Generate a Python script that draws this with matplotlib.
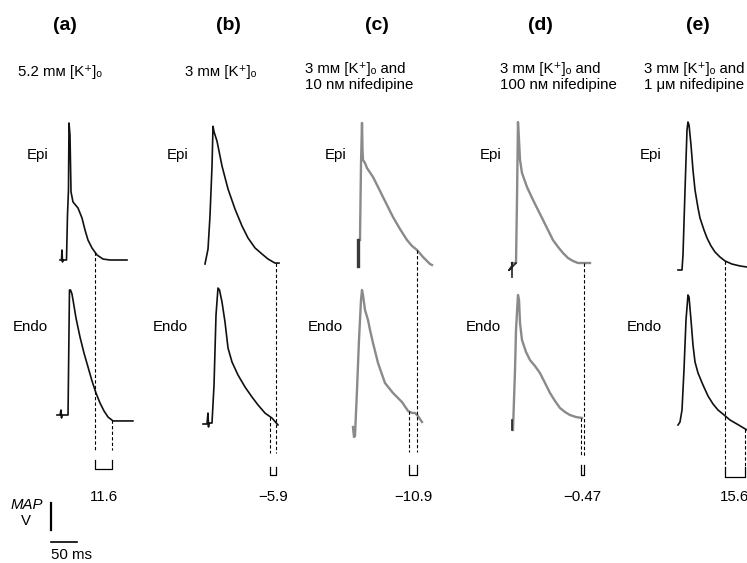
import numpy as np
import matplotlib
matplotlib.use('Agg')
import matplotlib.pyplot as plt

plt.rcParams['font.family'] = ['Liberation Sans', 'DejaVu Sans']

# panel titles and conditions
panel_titles = ['(a)', '(b)', '(c)', '(d)', '(e)']
conditions = ['5.2 mᴍ [K⁺]ₒ',
              '3 mᴍ [K⁺]ₒ',
              '3 mᴍ [K⁺]ₒ and\n10 nᴍ nifedipine',
              '3 mᴍ [K⁺]ₒ and\n100 nᴍ nifedipine',
              '3 mᴍ [K⁺]ₒ and\n1 μᴍ nifedipine']
dispersion = ['11.6', '\u22125.9', '\u221210.9', '\u22120.47', '15.6']

# MAP traces: time (ms) and amplitude (% of MAP)
a_epi_t = [0, 2.9, 3.8, 4.8, 5.8, 12.5, 14.4, 16.3, 17.3, 19.2, 21.2, 25, 34.6, 42.3, 48.1, 53.8, 61.5, 71.2, 82.7, 96.2, 128.8]
a_epi_v = [0, 0, 7.4, -1.5, 0, 0, 33.3, 51.9, 101.5, 92.6, 50.4, 43, 38.5, 31.1, 22.2, 14.8, 8.9, 3.7, 0.7, 0, 0]
a_endo_t = [0, 5.8, 7.7, 8.7, 9.6, 21.2, 24, 26, 28.8, 30.8, 36.5, 44.2, 51.9, 59.6, 67.3, 75, 82.7, 90.4, 98.1, 107.7, 146]
a_endo_v = [0, 0, 3.7, -2.2, 0, 0, 92.6, 92.6, 89.6, 85.2, 71.9, 57.8, 45.9, 35.6, 25.2, 16.3, 8.9, 3, -1.5, -4.4, -4.4]

b_epi_t = [0, 5.8, 9.6, 13.5, 15.4, 17.3, 23.1, 32.7, 44.2, 57.7, 71.2, 82.7, 96.2, 109.6, 121.2, 134.6, 142.3]
b_epi_v = [0, 11.1, 35.6, 72.6, 102, 98, 91, 72.6, 55.6, 40.7, 28.1, 19.3, 11.9, 7.4, 3.7, 0.7, 0.7]
b_endo_t = [0, 7.7, 9.6, 10.6, 11.5, 17.3, 21.2, 25, 28.8, 31.7, 36.5, 42.3, 48.1, 55.8, 67.3, 80.8, 94.2, 105.8, 119.2, 132.7, 144.2]
b_endo_v = [0, 0, 8.1, -2.2, 0.7, 0.7, 28.9, 80.7, 100.7, 99.3, 90.4, 75.6, 56.3, 45.9, 36.3, 27.4, 20, 14.1, 8.1, 4.4, -0.7]

c_epi_t = [3.8, 5.8, 7.7, 8.7, 9.6, 13.5, 17.3, 28.8, 38.5, 48.1, 57.7, 67.3, 80.8, 94.2, 103.8, 113.5, 125, 138.5, 142.3]
c_epi_v = [16.3, 73.3, 103, 83, 75.6, 73.3, 69.6, 63, 55.6, 48.1, 40.7, 33.3, 24.4, 16.3, 11.9, 8.9, 3.7, -1.5, -2.2]
c_endo_t = [0, 1.9, 3.8, 7.7, 11.5, 15.4, 17.3, 19.2, 23.1, 28.8, 32.7, 38.5, 48.1, 61.5, 76.9, 94.2, 105.8, 113.5, 119.2, 125, 132.7]
c_endo_v = [0, -7.4, -6.7, 27.4, 64.4, 94.1, 101.5, 97.8, 86.7, 79.3, 71.9, 62.2, 47.4, 32.6, 25.2, 18.5, 11.9, 10.4, 10.4, 8.1, 3.7]

d_epi_t = [0, 7.7, 9.6, 11.5, 13.5, 15.4, 19.2, 28.8, 40.4, 50, 59.6, 69.2, 78.8, 88.5, 98.1, 107.7, 117.3, 126.9, 150]
d_epi_v = [0, 0, 46.7, 104.4, 91.1, 76.3, 66.7, 56.3, 46.7, 39.3, 31.9, 24.4, 17, 11.9, 7.4, 3.7, 1.5, 0, 0]
d_endo_t = [1.9, 5.8, 7.7, 11.5, 13.5, 15.4, 19.2, 26.9, 34.6, 44.2, 53.8, 63.5, 73.1, 82.7, 92.3, 101.9, 111.5, 123.1, 134.6]
d_endo_v = [-3.7, 40.7, 70.4, 96.3, 92.6, 75.6, 63, 54.1, 48.1, 43.7, 38.5, 31.1, 23.7, 17.8, 12.6, 9.6, 7.4, 5.9, 5.2]

e_epi_t = [0, 7.7, 9.6, 13.5, 17.3, 19.2, 21.2, 25, 28.8, 32.7, 38.5, 42.3, 50, 55.8, 63.5, 71.2, 80.8, 90.4, 103.8, 119.2, 132.7]
e_epi_v = [0, 0, 11.1, 59.3, 103.7, 109.6, 107.4, 92.6, 74.1, 59.3, 45.9, 38.5, 29.6, 23.7, 17.8, 13.3, 9.6, 6.7, 4.4, 3, 2.2]
e_endo_t = [0, 3.8, 7.7, 11.5, 15.4, 19.2, 21.2, 25, 28.8, 32.7, 38.5, 48.1, 57.7, 67.3, 76.9, 86.5, 100, 113.5, 132.7]
e_endo_v = [0, 2.2, 11.1, 40.7, 77.8, 96.3, 94.8, 77.8, 59.3, 46.7, 38.5, 29.6, 21.5, 15.6, 11.1, 8.1, 3.7, 0.7, -3.7]

# stimulus artefacts
c_epi_art_t, c_epi_art_v = [0, 0], [-3, 16.3]
d_epi_art_t, d_epi_art_v = [0, 0, 0, -6, 7.7], [-10.4, 0, -2, -5.5, 0]
d_endo_art_t, d_endo_art_v = [0, 0], [-3.7, 3.7]

# repolarisation times (ms after trace start)
epi_repol_ms = [67.3, 135.6, 113.5, 138.5, 90.4]
endo_repol_ms = [105.8, 128.8, 107.7, 132.7, 128.8]

epi_traces = [(a_epi_t, a_epi_v), (b_epi_t, b_epi_v), (c_epi_t, c_epi_v), (d_epi_t, d_epi_v), (e_epi_t, e_epi_v)]
endo_traces = [(a_endo_t, a_endo_v), (b_endo_t, b_endo_v), (c_endo_t, c_endo_v), (d_endo_t, d_endo_v), (e_endo_t, e_endo_v)]

scale_ms = 50
scale_v = 20

# layout (figure pixels)
PX_MS = 26 / 50
PX_V = 1.35
FS = 10.8
title_x = [65, 228, 377, 540, 698]
cond_x = [18, 185, 305, 500, 644]
epi_lbl_x = [27, 167, 325, 480, 640]
endo_lbl_x = [13, 153, 308, 466, 627]
epi_org = [(60, 260), (205, 264), (358, 262), (512, 263), (678, 270)]
endo_org = [(57, 415), (203, 424), (353, 427), (512, 425), (678, 425)]
dash_end = [450, 453, 452, 457, 467]
brk_y = [(460, 469), (467, 475), (465, 475), (465, 475), (467, 477)]
colors = ['#111111', '#111111', '#8a8a8a', '#8a8a8a', '#111111']
widths = [1.2, 1.2, 1.7, 1.7, 1.2]

fig = plt.figure(figsize=(7.47, 5.63), dpi=100)
ax = fig.add_axes([0, 0, 1, 1])
ax.set_xlim(0, 747)
ax.set_ylim(563, 0)
ax.axis('off')


def place(org, t, v):
    return org[0] + np.asarray(t) * PX_MS, org[1] - np.asarray(v) * PX_V


for i in range(5):
    ax.text(title_x[i], 25, panel_titles[i], ha='center', va='center',
            fontsize=14, fontweight='bold')
    if '\n' in conditions[i]:
        ax.text(cond_x[i], 77, conditions[i], ha='left', va='center',
                fontsize=FS, linespacing=1.2)
    else:
        ax.text(cond_x[i], 72, conditions[i], ha='left', va='center', fontsize=FS)
    ax.text(epi_lbl_x[i], 155, 'Epi', ha='left', va='center', fontsize=FS)
    ax.text(endo_lbl_x[i], 327, 'Endo', ha='left', va='center', fontsize=FS)

    ex, ey = place(epi_org[i], *epi_traces[i])
    nx, ny = place(endo_org[i], *endo_traces[i])
    ax.plot(ex, ey, color=colors[i], lw=widths[i], solid_joinstyle='round')
    ax.plot(nx, ny, color=colors[i], lw=widths[i], solid_joinstyle='round')

    # dashed repolarisation markers
    xe = epi_org[i][0] + epi_repol_ms[i] * PX_MS
    xn = endo_org[i][0] + endo_repol_ms[i] * PX_MS
    ye = np.interp(xe, ex, ey)
    yn = np.interp(xn, nx, ny)
    ax.plot([xe, xe], [ye, dash_end[i]], color='black', lw=0.8, ls=(0, (3, 2)))
    ax.plot([xn, xn], [yn, dash_end[i]], color='black', lw=0.8, ls=(0, (3, 2)))
    xl, xr = min(xe, xn), max(xe, xn)
    ax.plot([xl, xl, xr, xr], [brk_y[i][0], brk_y[i][1], brk_y[i][1], brk_y[i][0]],
            color='black', lw=0.9)
    ax.text((xl + xr) / 2, 497, dispersion[i], ha='center', va='center', fontsize=FS)

# artefacts
for org, t, v, c in [(epi_org[2], c_epi_art_t, c_epi_art_v, '#3a3a3a'),
                     (epi_org[3], d_epi_art_t, d_epi_art_v, '#222222'),
                     (endo_org[3], d_endo_art_t, d_endo_art_v, '#222222')]:
    x, y = place(org, t, v)
    ax.plot(x, y, color=c, lw=2.4 if c == '#3a3a3a' else 1.2)

# scale bars
ax.plot([51, 51], [530, 530 - scale_v * PX_V], color='black', lw=1.6)
ax.plot([51, 51 + scale_ms * PX_MS], [542, 542], color='black', lw=1.2)
ax.text(43, 505, 'MAP', ha='right', va='center', fontsize=FS, fontstyle='italic')
ax.text(26, 521, 'V', ha='center', va='center', fontsize=FS)
ax.text(51, 555, '50 ms', ha='left', va='center', fontsize=FS)

fig.savefig('out.png', dpi=100)
